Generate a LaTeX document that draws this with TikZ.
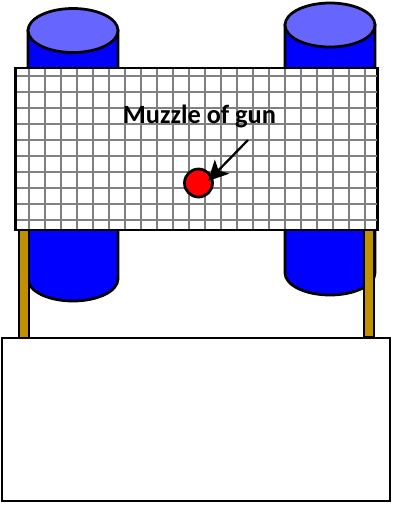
\documentclass[tikz,border=0pt]{standalone}
\usepackage{fontspec}
\setmainfont{Carlito}
\usetikzlibrary{arrows.meta}
\definecolor{barrelblue}{HTML}{0000FF}
\definecolor{barreltop}{HTML}{6666FF}
\definecolor{postgold}{HTML}{BF9000}

\begin{document}
\begin{tikzpicture}[
    x=0.2mm, y=-0.2mm,
    outline/.style={draw=black, line width=0.55mm},
    gridline/.style={draw=gray, line width=0.27mm},
    post/.style={draw=black, line width=0.45mm, fill=postgold},
    caption/.style={inner sep=0pt, font=\fontsize{15pt}{18pt}\selectfont\bfseries}
]
    \useasboundingbox (0,0) rectangle (393,508);

    % barrels
    \foreach \cx/\cy/\low in {73/30.5/279, 330/25/273} {
        \draw[outline, fill=barrelblue] (\cx-45,\cy) -- (\cx-45,\low)
            arc[start angle=180, end angle=0, x radius=45, y radius=22] -- (\cx+45,\cy) -- cycle;
        \draw[outline, fill=barreltop] (\cx,\cy) ellipse[x radius=45, y radius=22];
    }

    % posts
    \draw[post] (19,229) rectangle (29,338);
    \draw[post] (364,229) rectangle (374,337);

    \node[draw, line width=0.36mm, fill=white, minimum width=72.2mm, minimum height=32.2mm, inner sep=0pt] (panel) at (196.8,149) {};
    \foreach \gx in {29,45,...,365}
        \draw[gridline] (\gx,69) -- (\gx,229);
    \foreach \gy in {76,92,...,220}
        \draw[gridline] (17,\gy) -- (377,\gy);
    \draw[line width=0.36mm] (panel.north west) rectangle (panel.south east);

    \node[outline, minimum width=77.6mm, minimum height=32.6mm, inner sep=0pt, fill=white] (base) at (196,419.5) {};

    \node[outline, circle, fill=red, minimum size=5.6mm, inner sep=0pt] (muzzle) at (198.5,183) {};
    \node[caption] (lbl) at (199.5,116) {Muzzle of gun};
    \draw[-{Stealth[length=4mm, width=4mm, inset=1mm]}, line width=0.45mm] ([shift={(48.5,24)}]lbl.center) -- ([shift={(9.5,-2)}]muzzle.center);
\end{tikzpicture}
\end{document}
